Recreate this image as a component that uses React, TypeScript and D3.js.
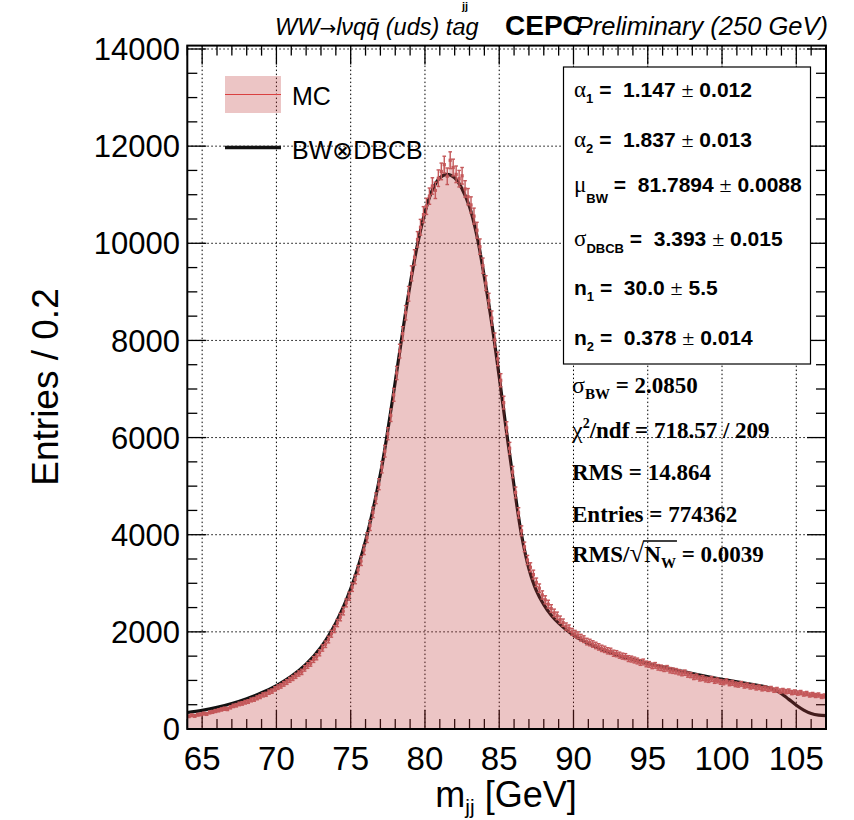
import React, { useLayoutEffect, useRef, useState } from 'react';
import * as d3 from 'd3';

// Histogram binning: 215 bins of 0.2 GeV starting at 64 GeV
const binLow = 64;
const binWidth = 0.2;

// MC entries per bin (five bins per GeV)
const mcCounts = [
  262, 281, 270, 294, 301,
  318, 309, 341, 352, 370,
  384, 402, 418, 412, 447,
  476, 489, 516, 528, 551,
  566, 598, 611, 642, 668,
  702, 715, 758, 781, 826,
  862, 889, 930, 968, 1012,
  1050, 1095, 1142, 1176, 1248,
  1306, 1352, 1431, 1486, 1570,
  1668, 1745, 1842, 1961, 2058,
  2182, 2304, 2428, 2596, 2735,
  2920, 3080, 3275, 3460, 3688,
  3940, 4190, 4460, 4750, 5040,
  5390, 5720, 6080, 6460, 6880,
  7330, 7780, 8140, 8570, 8960,
  9380, 9710, 10080, 10330, 10590,
  10760, 10970, 11180, 11090, 11340,
  11480, 11620, 11380, 11710, 11560,
  11420, 11330, 11390, 11120, 10960,
  10790, 10560, 10270, 9930, 9540,
  9180, 8820, 8460, 8010, 7620,
  7180, 6720, 6200, 5780, 5290,
  4870, 4450, 4080, 3750, 3480,
  3330, 3180, 3020, 2900, 2760,
  2660, 2570, 2480, 2390, 2330,
  2250, 2190, 2110, 2070, 2000,
  1960, 1930, 1880, 1850, 1800,
  1780, 1750, 1720, 1690, 1660,
  1640, 1610, 1600, 1560, 1550,
  1520, 1500, 1490, 1450, 1440,
  1420, 1400, 1370, 1380, 1340,
  1330, 1300, 1310, 1270, 1260,
  1240, 1250, 1210, 1200, 1190,
  1170, 1150, 1160, 1120, 1110,
  1070, 1080, 1040, 1050, 1020,
  1010, 1030, 990, 1000, 970,
  960, 980, 940, 950, 920,
  910, 930, 890, 900, 870,
  880, 850, 860, 830, 840,
  820, 830, 800, 810, 780,
  790, 770, 780, 750, 760,
  740, 750, 720, 730, 700,
  710, 690, 700, 670, 680,
];

// Fitted BW (x) DBCB curve, sampled in m_jj
const fitMass = [
  64, 65, 66, 67, 68, 69, 70, 71, 72, 73, 74, 75, 76, 77, 77.5, 78, 78.5, 79, 79.5,
  80, 80.5, 81, 81.5, 82, 82.5, 83, 83.5, 84, 84.5, 85, 85.5, 86, 86.5, 87, 87.5,
  88, 88.5, 89, 90, 91, 92, 93, 94, 95, 96, 97, 98, 99, 100, 101, 102, 103, 103.5,
  104, 104.5, 105, 105.5, 106, 106.5, 107,
];
const fitValue = [
  340, 385, 445, 525, 625, 745, 895, 1085, 1335, 1685, 2185, 2885, 3875, 5250, 6150, 7150, 8180, 9150, 9980,
  10640, 11100, 11350, 11420, 11350, 11120, 10750, 10150, 9300, 8350, 7250, 6100, 5000, 4000, 3300, 2850,
  2560, 2340, 2180, 1930, 1760, 1630, 1520, 1430, 1350, 1280, 1210, 1140, 1080, 1025, 970, 920, 865, 810,
  730, 610, 490, 390, 320, 285, 275,
];

const xMajor = [65, 70, 75, 80, 85, 90, 95, 100, 105];
const yMajor = [0, 2000, 4000, 6000, 8000, 10000, 12000, 14000];

const fitParams = [
  { sym: 'α', sub: '1', val: '1.147', err: '0.012' },
  { sym: 'α', sub: '2', val: '1.837', err: '0.013' },
  { sym: 'μ', sub: 'BW', val: '81.7894', err: '0.0088' },
  { sym: 'σ', sub: 'DBCB', val: '3.393', err: '0.015' },
  { sym: 'n', sub: '1', val: '30.0', err: '5.5' },
  { sym: 'n', sub: '2', val: '0.378', err: '0.014' },
];

const W = 854;
const H = 820;
const L = 187.3;
const R = 826;
const T = 45.6;
const B = 729;

const sans = '"Liberation Sans", Arial, Helvetica, sans-serif';
const serif = '"Liberation Serif", "Times New Roman", serif';

const fillBase = 'rgb(190,54,54)';
const fillAlpha = 0.29;
const markColor = '#c4585a';

export default function App() {
  const x = d3.scaleLinear().domain([64, 107]).range([L, R]);
  const y = d3.scaleLinear().domain([0, 14070]).range([B, T]);

  const radRef = useRef<SVGTSpanElement>(null);
  const subRef = useRef<SVGTSpanElement>(null);
  const [bar, setBar] = useState<[number, number, number] | null>(null);

  useLayoutEffect(() => {
    const r = radRef.current;
    const s = subRef.current;
    if (r && s) {
      const p0 = r.getEndPositionOfChar(0);
      const p1 = s.getEndPositionOfChar(0);
      setBar([p0.x - 1, p1.x + 1, 541]);
    }
  }, []);

  const edges = mcCounts.map((c, i) => [binLow + i * binWidth, c] as [number, number]);
  edges.push([binLow + mcCounts.length * binWidth, mcCounts[mcCounts.length - 1]]);

  const area = d3
    .area<[number, number]>()
    .x((d) => x(d[0]))
    .y0(y(0))
    .y1((d) => y(d[1]))
    .curve(d3.curveStepAfter);

  const fitLine = d3
    .line<number>()
    .x((_, i) => x(fitMass[i]))
    .y((d) => y(d))
    .curve(d3.curveCatmullRom.alpha(0.5));

  const xMinor = d3.range(64, 107.01, 1);
  const yMinor = d3.range(0, 14001, 500);

  const majLen = 19;
  const minLen = 10;

  const boxX = 563.5;
  const boxY = 67;
  const boxW = 247;
  const boxH = 297;

  return (
    <svg
      width={W}
      height={H}
      viewBox={`0 0 ${W} ${H}`}
      style={{ position: 'absolute', left: 0, top: 0, background: '#fff' }}
    >
      {/* grid */}
      <g stroke="#000" strokeWidth={1} strokeDasharray="1.5,2.5">
        {xMajor.map((v) => (
          <line key={'gx' + v} x1={x(v)} x2={x(v)} y1={T} y2={B} />
        ))}
        {yMajor.map((v) => (
          <line key={'gy' + v} x1={L} x2={R} y1={y(v)} y2={y(v)} />
        ))}
      </g>

      {/* ticks */}
      <g stroke="#000" strokeWidth={1.3}>
        {xMinor.map((v) => {
          const len = xMajor.includes(v) ? majLen : minLen;
          return (
            <g key={'tx' + v}>
              <line x1={x(v)} x2={x(v)} y1={B} y2={B - len} />
              <line x1={x(v)} x2={x(v)} y1={T} y2={T + len} />
            </g>
          );
        })}
        {yMinor.map((v) => {
          const len = yMajor.includes(v) ? majLen : minLen;
          return (
            <g key={'ty' + v}>
              <line x1={L} x2={L + len} y1={y(v)} y2={y(v)} />
              <line x1={R} x2={R - len} y1={y(v)} y2={y(v)} />
            </g>
          );
        })}
      </g>

      {/* fit curve */}
      <path d={fitLine(fitValue) ?? ''} fill="none" stroke="#111" strokeWidth={3.2} strokeLinejoin="round" />

      {/* MC histogram fill */}
      <path d={area(edges) ?? ''} fill={fillBase} fillOpacity={fillAlpha} stroke="none" />

      {/* MC points with statistical error bars */}
      <g stroke={markColor} strokeWidth={1.4}>
        {mcCounts.map((c, i) => {
          const xc = x(binLow + (i + 0.5) * binWidth);
          const e = Math.sqrt(c) * 1.6;
          return (
            <g key={'m' + i}>
              <line x1={xc} x2={xc} y1={y(c - e)} y2={y(c + e)} />
              <line x1={xc - 1.8} x2={xc + 1.8} y1={y(c + e)} y2={y(c + e)} />
              <line x1={xc - 1.8} x2={xc + 1.8} y1={y(c - e)} y2={y(c - e)} />
              <rect x={xc - 1.6} y={y(c) - 1.6} width={3.2} height={3.2} fill={markColor} stroke="none" />
            </g>
          );
        })}
      </g>

      {/* frame */}
      <rect x={L} y={T} width={R - L} height={B - T} fill="none" stroke="#000" strokeWidth={2} />

      {/* axis labels */}
      <g fontFamily={sans} fill="#000">
        {xMajor.map((v) => (
          <text key={'lx' + v} x={x(v)} y={770} textAnchor="middle" fontSize={33}>
            {v}
          </text>
        ))}
        {yMajor.map((v) => (
          <text key={'ly' + v} x={180} y={y(v)} dy="0.36em" textAnchor="end" fontSize={31}>
            {v}
          </text>
        ))}
      </g>
      <text x={506} y={807} textAnchor="middle" fontFamily={sans} fontSize={36}>
        m
        <tspan fontSize={21} dy={7}>jj</tspan>
        <tspan dy={-7}> [GeV]</tspan>
      </text>
      <text
        transform="translate(58,387) rotate(-90)"
        textAnchor="middle"
        fontFamily={sans}
        fontSize={37}
      >
        Entries / 0.2
      </text>

      {/* header */}
      <text x={462} y={10} fontFamily={sans} fontSize={11} fontWeight="bold">jj</text>
      <text x={275} y={35} fontFamily={sans} fontSize={23.5} fontStyle="italic">
        WW
        <tspan fontFamily='"DejaVu Sans", sans-serif' fontStyle="normal" fontSize={20}>→</tspan>
        lνqq̄ (uds) tag
      </text>
      <text x={505} y={35} fontFamily={sans} fontSize={28} fontWeight="bold">CEPC</text>
      <text x={828} y={35} fontFamily={sans} fontSize={25.5} fontStyle="italic" textAnchor="end">
        Preliminary (250 GeV)
      </text>

      {/* legend */}
      <rect x={225} y={76} width={56} height={37} fill={fillBase} fillOpacity={fillAlpha} />
      <line x1={225} x2={281} y1={94.5} y2={94.5} stroke="#d94040" strokeWidth={1} />
      <text x={292} y={105} fontFamily={sans} fontSize={25}>MC</text>
      <line x1={225} x2={281} y1={147.5} y2={147.5} stroke="#111" strokeWidth={3.4} />
      <text x={292} y={159} fontFamily={sans} fontSize={25}>BW⊗DBCB</text>

      {/* fit parameter box */}
      <rect x={boxX} y={boxY} width={boxW} height={boxH} fill="#fff" stroke="#000" strokeWidth={1.2} />
      {fitParams.map((p, i) => {
        const greek = p.sym !== 'n';
        const longSub = p.sub.length > 1;
        const base = 97 + i * 49.6 - (p.sym === 'μ' ? 4 : 0);
        const dSub = longSub ? (p.sym === 'μ' ? 11 : 7) : 6;
        return (
          <text
            key={'fp' + i}
            x={574}
            y={base}
            fontFamily={sans}
            fontSize={21}
            fontWeight="bold"
            style={{ whiteSpace: 'pre' }}
          >
            <tspan
              fontFamily={greek ? serif : sans}
              fontWeight={greek ? 'normal' : 'bold'}
              fontSize={greek ? 23 : 21}
            >
              {p.sym}
            </tspan>
            <tspan fontSize={13} dy={dSub}>{p.sub}</tspan>
            <tspan dy={-dSub}>{' =  ' + p.val + ' '}</tspan>
            <tspan fontFamily={serif} fontWeight="normal" fontSize={22}>±</tspan>
            <tspan>{' ' + p.err}</tspan>
          </text>
        );
      })}

      {/* derived quantities */}
      <g fontFamily={serif} fontWeight="bold" fontSize={23} fill="#000">
        <text x={572} y={393}>
          <tspan fontWeight="normal" fontSize={24}>σ</tspan>
          <tspan fontSize={15} dy={6}>BW</tspan>
          <tspan dy={-6}> = 2.0850</tspan>
        </text>
        <text x={572} y={438}>
          <tspan fontWeight="normal" fontSize={24}>χ</tspan>
          <tspan fontSize={14} dy={-10}>2</tspan>
          <tspan dy={10}>/ndf = 718.57 / 209</tspan>
        </text>
        <text x={572} y={480}>RMS = 14.864</text>
        <text x={572} y={522}>Entries = 774362</text>
        <text x={572} y={562}>
          RMS/
          <tspan ref={radRef} fontWeight="normal" fontSize={27}>√</tspan>
          <tspan>N</tspan>
          <tspan ref={subRef} fontSize={15} dy={6}>W</tspan>
          <tspan dy={-6}> = 0.0039</tspan>
        </text>
      </g>
      {bar && <line x1={bar[0]} x2={bar[1]} y1={bar[2]} y2={bar[2]} stroke="#000" strokeWidth={1.3} />}
    </svg>
  );
}
